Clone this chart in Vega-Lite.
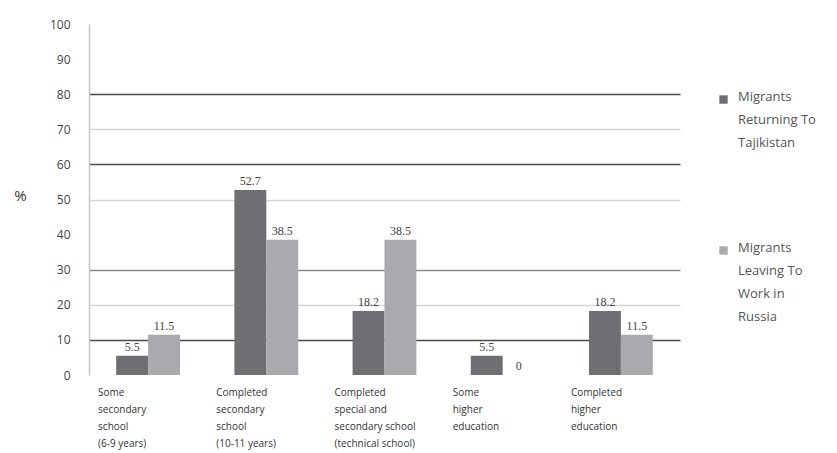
{
  "$schema": "https://vega.github.io/schema/vega-lite/v6.json",
  "width": 591,
  "height": 351,
  "autosize": {"type": "none"},
  "padding": {"left": 89, "top": 24, "right": 157, "bottom": 78},
  "background": "white",
  "config": {
    "view": {"stroke": null},
    "font": "Open Sans"
  },
  "data": {
    "values": [
      {"edu": "Some|secondary|school|(6-9 years)", "series": "Migrants|Returning To|Tajikistan", "value": 5.5},
      {"edu": "Some|secondary|school|(6-9 years)", "series": "Migrants|Leaving To|Work in|Russia", "value": 11.5},
      {"edu": "Completed|secondary|school|(10-11 years)", "series": "Migrants|Returning To|Tajikistan", "value": 52.7},
      {"edu": "Completed|secondary|school|(10-11 years)", "series": "Migrants|Leaving To|Work in|Russia", "value": 38.5},
      {"edu": "Completed|special and|secondary school|(technical school)", "series": "Migrants|Returning To|Tajikistan", "value": 18.2},
      {"edu": "Completed|special and|secondary school|(technical school)", "series": "Migrants|Leaving To|Work in|Russia", "value": 38.5},
      {"edu": "Some|higher|education", "series": "Migrants|Returning To|Tajikistan", "value": 5.5},
      {"edu": "Some|higher|education", "series": "Migrants|Leaving To|Work in|Russia", "value": 0},
      {"edu": "Completed|higher|education", "series": "Migrants|Returning To|Tajikistan", "value": 18.2},
      {"edu": "Completed|higher|education", "series": "Migrants|Leaving To|Work in|Russia", "value": 11.5}
    ]
  },
  "encoding": {
    "x": {
      "field": "edu", "type": "nominal", "sort": null,
      "scale": {"paddingInner": 0.46, "paddingOuter": 0.23},
      "axis": {
        "title": null, "domain": false, "ticks": false, "labelAngle": 0,
        "labelExpr": "split(datum.label, '|')",
        "labelAlign": "left", "labelOffset": -50, "labelBaseline": "top",
        "labelFontSize": 10, "labelLineHeight": 17, "labelColor": "#333",
        "labelPadding": 12, "labelFont": "Open Sans"
      }
    },
    "xOffset": {"field": "series", "type": "nominal", "sort": null},
    "y": {
      "field": "value", "type": "quantitative",
      "scale": {"domain": [0, 100]},
      "axis": {
        "title": "%", "titleAngle": 0, "titleX": -69, "titleY": 171,
        "titleAlign": "center", "titleBaseline": "middle", "titleFontSize": 15,
        "titleFontWeight": "normal", "titleColor": "#333",
        "values": [0, 10, 20, 30, 40, 50, 60, 70, 80, 90, 100],
        "ticks": false, "labelPadding": 19, "labelFontSize": 12, "labelColor": "#444",
        "domainColor": "#c8c8c8", "domainWidth": 1.5,
        "gridColor": {
          "condition": [
            {"test": "datum.value == 80 || datum.value == 60 || datum.value == 10", "value": "#4a4a4a"},
            {"test": "datum.value == 30", "value": "#8a8a8a"},
            {"test": "datum.value == 70 || datum.value == 50 || datum.value == 20", "value": "#d6d6d6"}
          ],
          "value": "#ffffff"
        },
        "gridWidth": 1.5
      }
    }
  },
  "layer": [
    {
      "mark": {"type": "bar"},
      "encoding": {
        "color": {
          "field": "series", "type": "nominal", "sort": null,
          "scale": {"range": ["#6e6f73", "#a9aaad"]},
          "legend": {
            "title": null, "orient": "none", "legendX": 628, "legendY": 69,
            "labelExpr": "split(datum.label, '|')",
            "labelFontSize": 13, "labelColor": "#555",
            "labelBaseline": "top", "symbolType": "square", "symbolSize": 70,
            "rowPadding": 91, "labelOffset": 8, "labelLimit": 200,
            "encode": {
              "labels": {"update": {"lineHeight": {"value": 23}, "dy": {"value": -9}}}
            }
          }
        }
      }
    },
    {
      "mark": {"type": "text", "dy": -9, "fontSize": 12, "color": "#444", "font": "Liberation Serif"},
      "encoding": {
        "text": {"field": "value", "type": "quantitative", "format": ".1~f"}
      }
    }
  ]
}
